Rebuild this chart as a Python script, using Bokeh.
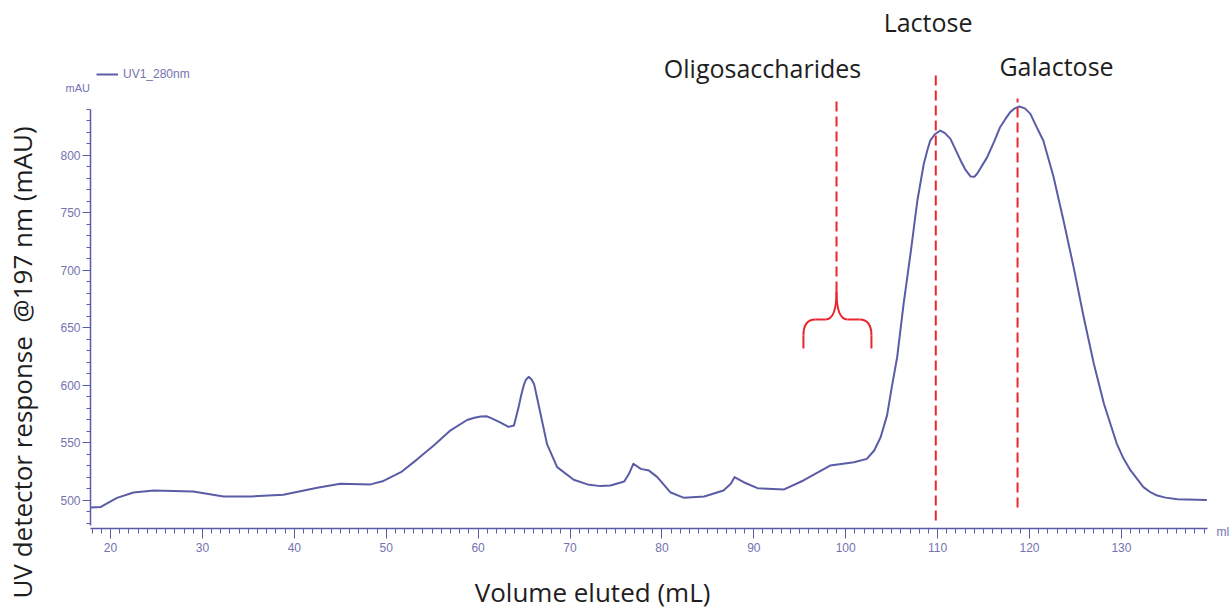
from bokeh.plotting import figure
from bokeh.models import (Range1d, SingleIntervalTicker, Label, Legend, LegendItem)
from bokeh.embed import file_html
from bokeh.resources import INLINE
import math

# Elution profile: volume (mL) vs detector response (mAU)
volume = [17.8, 18.9, 20.7, 22.5, 24.7, 29.0, 32.3, 35.2, 38.8, 42.5, 45.0,
          48.3, 49.7, 51.6, 53.4, 55.2, 57.0, 58.8, 59.6, 60.3, 60.9, 61.3,
          62.4, 63.3, 63.9, 64.4, 64.7, 65.0, 65.2, 65.5, 65.8, 66.1, 66.4,
          66.8, 67.5, 68.6, 70.4, 71.9, 73.3, 74.4, 75.9, 76.4, 76.9, 77.7,
          78.6, 79.5, 80.9, 82.4, 84.6, 86.7, 87.5, 87.9, 88.9, 90.4, 93.3,
          95.4, 98.3, 100.9, 102.3, 103.1, 103.8, 104.5, 105.0, 105.6, 106.3,
          107.1, 107.8, 108.5, 108.9, 109.2, 109.7, 110.3, 110.8, 111.4,
          111.9, 112.5, 113.0, 113.6, 114.0, 114.3, 115.4, 116.2, 116.8,
          117.4, 117.9, 118.4, 118.9, 119.5, 120.1, 120.7, 121.5, 122.6,
          123.7, 124.8, 125.9, 127.0, 128.1, 129.5, 130.2, 131.0, 132.4,
          133.2, 133.9, 134.8, 136.1, 139.3]
response = [494.0, 494.3, 502.3, 507.0, 508.7, 507.8, 503.5, 503.5, 505.0,
            511.0, 514.5, 514.0, 517.0, 524.6, 536.0, 548.0, 561.0, 570.0,
            572.0, 573.0, 573.3, 572.0, 568.0, 564.0, 565.2, 581.0, 592.0,
            601.0, 605.0, 607.5, 605.5, 601.0, 590.0, 575.0, 549.0, 529.0,
            518.0, 514.0, 512.5, 513.0, 516.5, 523.0, 532.0, 527.5, 526.0,
            520.3, 507.2, 502.3, 503.5, 508.7, 514.5, 520.3, 515.9, 510.7,
            509.6, 517.4, 530.4, 533.3, 536.2, 543.5, 555.0, 574.0, 598.0,
            624.6, 671.0, 717.4, 760.9, 792.8, 805.0, 813.0, 818.5, 821.7,
            819.5, 814.5, 806.0, 795.7, 788.0, 781.7, 781.5, 784.1, 798.6,
            813.0, 824.6, 832.0, 837.7, 841.0, 842.6, 841.0, 836.2, 826.0,
            813.0, 782.0, 743.5, 702.9, 659.4, 618.9, 584.1, 549.3, 537.0,
            526.1, 511.6, 507.0, 504.3, 502.5, 501.0, 500.5]

# Marked fractions: names, elution positions and marker extents
fraction_names = ["Oligosaccharides", "Lactose", "Galactose"]
fraction_volume = [99.0, 109.8, 118.7]
marker_top = [849.6, 873.9, 849.6]
marker_bottom = [681.7, 482.6, 493.9]
label_x = [90.95, 108.96, 122.94]
label_y = [876.5, 916.5, 877.5]

# Brace spanning the oligosaccharide region
brace_left, brace_right = 95.4, 102.8
brace_tip, brace_mid, brace_bend, brace_foot = 681.7, 657.4, 643.5, 632.2

x_ticks_interval = 10
y_ticks_interval = 50

AXIS_COLOR = "#5b5ca8"
TICK_TEXT = "#7373b0"
CURVE_COLOR = "#5a5ca6"
RED = "#e8262d"
TEXT = "#1e1e1e"
TITLE_FONT = "Open Sans"
NAME_SIZE = "25px"
AXIS_TITLE_SIZE = "26px"

p = figure(width=1232, height=610, output_backend="svg", toolbar_location=None,
           x_range=Range1d(17.82, 139.37), y_range=Range1d(475.65, 934.78),
           min_border_left=90, min_border_right=25, min_border_top=0,
           min_border_bottom=82, background_fill_color="white",
           border_fill_color="white", outline_line_color=None)
p.grid.visible = False

# axes styled like the instrument software
xa = p.xaxis[0]
xa.ticker = SingleIntervalTicker(interval=x_ticks_interval, num_minor_ticks=10)
xa.axis_line_color = AXIS_COLOR
xa.major_tick_line_color = AXIS_COLOR
xa.minor_tick_line_color = AXIS_COLOR
xa.axis_line_width = 1.5
xa.major_tick_in = 0
xa.major_tick_out = 10
xa.minor_tick_in = 0
xa.minor_tick_out = 5
xa.major_label_text_color = TICK_TEXT
xa.major_label_text_font = "Liberation Sans"
xa.major_label_text_font_size = "12px"
xa.major_label_standoff = 4

ya = p.yaxis[0]
ya.ticker = SingleIntervalTicker(interval=y_ticks_interval, num_minor_ticks=5)
ya.bounds = (478, 840)
ya.axis_line_color = AXIS_COLOR
ya.major_tick_line_color = AXIS_COLOR
ya.minor_tick_line_color = AXIS_COLOR
ya.axis_line_width = 1.5
ya.major_tick_in = 0
ya.major_tick_out = 8
ya.minor_tick_in = 0
ya.minor_tick_out = 4
ya.major_label_text_color = TICK_TEXT
ya.major_label_text_font = "Liberation Sans"
ya.major_label_text_font_size = "12px"
ya.major_label_standoff = 2

# chromatogram trace
trace = p.line(volume, response, line_color=CURVE_COLOR, line_width=2,
               line_join="round")

legend = Legend(items=[LegendItem(label="UV1_280nm", renderers=[trace])],
                location=(6, 447), background_fill_alpha=0, border_line_alpha=0,
                padding=0, margin=0, glyph_width=22, glyph_height=12,
                label_height=12, label_standoff=5,
                label_text_font="Liberation Sans", label_text_font_size="12px",
                label_text_color=TICK_TEXT)
p.add_layout(legend)

# red dashed markers for each fraction
p.segment(x0=fraction_volume, y0=marker_bottom, x1=fraction_volume, y1=marker_top,
          line_color=RED, line_width=2, line_dash="10 5")

# brace under the oligosaccharide marker
cx = fraction_volume[0]
inner = 1.2
outer = 1.3
p.quadratic(x0=[cx, cx], y0=[brace_tip, brace_tip],
            x1=[cx - inner, cx + inner], y1=[brace_mid, brace_mid],
            cx=[cx, cx], cy=[brace_mid, brace_mid],
            line_color=RED, line_width=2)
p.segment(x0=[cx - inner, cx + inner], y0=[brace_mid, brace_mid],
          x1=[brace_left + outer, brace_right - outer], y1=[brace_mid, brace_mid],
          line_color=RED, line_width=2)
p.quadratic(x0=[brace_left + outer, brace_right - outer], y0=[brace_mid, brace_mid],
            x1=[brace_left, brace_right], y1=[brace_bend, brace_bend],
            cx=[brace_left, brace_right], cy=[brace_mid, brace_mid],
            line_color=RED, line_width=2)
p.segment(x0=[brace_left, brace_right], y0=[brace_bend, brace_bend],
          x1=[brace_left, brace_right], y1=[brace_foot, brace_foot],
          line_color=RED, line_width=2)

# fraction names
for name, lx, ly in zip(fraction_names, label_x, label_y):
    p.add_layout(Label(x=lx, y=ly, text=name, text_align="center",
                       text_baseline="middle", text_font=TITLE_FONT,
                       text_font_size=NAME_SIZE, text_color=TEXT))

# axis titles, placed in the side panels so they sit outside the plot frame
p.add_layout(Label(x=72.45, y=420.0, text="Volume eluted (mL)", text_align="center",
                   text_baseline="middle", text_font=TITLE_FONT,
                   text_font_size=AXIS_TITLE_SIZE, text_color=TEXT), "below")
p.add_layout(Label(x=10.32, y=620.0, text="UV detector response\u00a0 @197 nm (mAU)",
                   angle=math.pi / 2, text_align="center", text_baseline="middle",
                   text_font=TITLE_FONT, text_font_size=AXIS_TITLE_SIZE,
                   text_color=TEXT), "left")

# unit tags from the instrument export (panel slots chosen to leave the frame size alone)
p.add_layout(Label(x=15.1, y=858.3, text="mAU", text_align="left",
                   text_baseline="middle", text_font="Liberation Sans",
                   text_font_size="11px", text_color=TICK_TEXT), "below")
p.add_layout(Label(x=140.35, y=472.2, text="ml", text_align="left",
                   text_baseline="middle", text_font="Liberation Sans",
                   text_font_size="12px", text_color=TICK_TEXT), "right")

open("out.html", "w").write(file_html(p, INLINE))
